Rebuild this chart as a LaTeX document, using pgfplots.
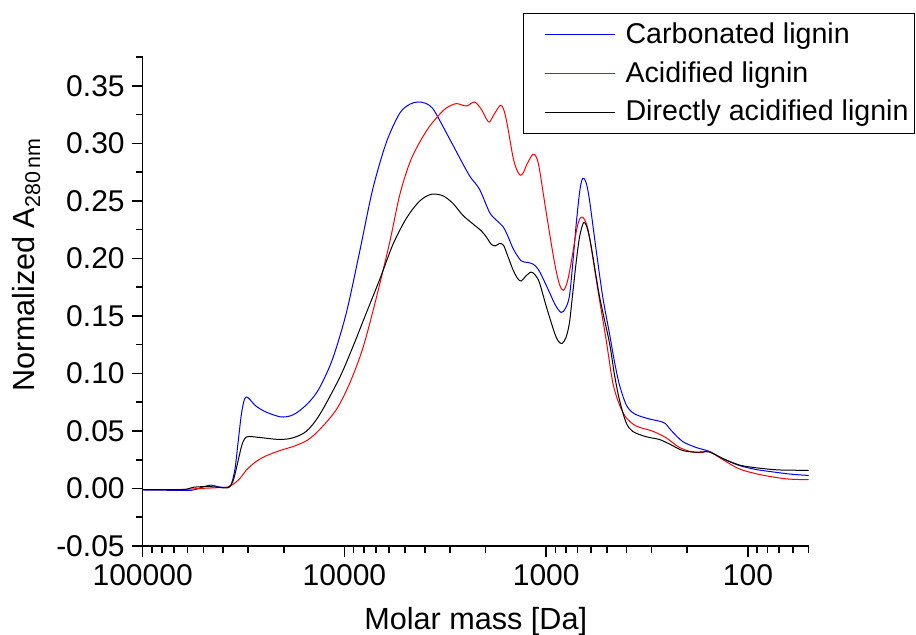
\documentclass[border=0pt]{standalone}
\usepackage{fontspec}
\setmainfont{Liberation Sans}
\usepackage{pgfplots}
\pgfplotsset{compat=1.18}

% Carbonated lignin
\pgfplotstableread{
M y
100000 -0.0013
69183 -0.0016
57016 -0.0015
50292 0.0013
45920 0.0030
42391 0.0015
38254 0.0009
36559 0.0026
34914 0.0165
33749 0.0383
32434 0.0643
31333 0.0774
30458 0.0794
29444 0.0774
27479 0.0717
24527 0.0665
20670 0.0622
18239 0.0635
16645 0.0678
14854 0.0757
13255 0.0878
11427 0.1130
9775 0.1530
8401 0.2061
7244 0.2600
6196 0.3009
5323 0.3261
4750 0.3339
4337 0.3359
3959 0.3348
3655 0.3304
3374 0.3200
3116 0.3087
2844 0.2957
2597 0.2826
2371 0.2704
2139 0.2600
1909 0.2400
1762 0.2330
1640 0.2278
1555 0.2200
1452 0.2078
1330 0.1978
1238 0.1965
1156 0.1948
1080 0.1887
963 0.1704
899 0.1591
843 0.1530
803 0.1565
767 0.1672
737 0.1974
708 0.2322
680 0.2600
659 0.2696
635 0.2661
611 0.2513
566 0.2078
525 0.1670
486 0.1348
459 0.1104
434 0.0904
402 0.0730
374 0.0661
345 0.0630
308 0.0604
275 0.0585
257 0.0565
240 0.0504
211 0.0409
181 0.0357
155.5 0.0322
134 0.0261
110.4 0.0200
91.3 0.0165
81.4 0.0152
62.5 0.0126
50 0.0113
}\carbonated

% Acidified lignin
\pgfplotstableread{
M y
100000 -0.0009
65353 -0.0009
52036 0.0000
43862 0.0006
38254 0.0011
35727 0.0035
32975 0.0087
30458 0.0165
27800 0.0226
25380 0.0270
22900 0.0304
20438 0.0335
17620 0.0370
15196 0.0422
13255 0.0513
10955 0.0687
9414 0.0915
8088 0.1225
6944 0.1660
5967 0.2140
5323 0.2550
4750 0.2830
4239 0.3009
3783 0.3148
3374 0.3252
3116 0.3309
2789 0.3345
2489 0.3324
2265 0.3359
2098 0.3296
1975 0.3209
1909 0.3185
1823 0.3244
1689 0.3330
1627 0.3296
1564 0.3174
1463 0.2887
1403 0.2774
1345 0.2722
1295 0.2748
1247 0.2817
1165 0.2904
1117 0.2878
1080 0.2774
1000 0.2400
910 0.1965
859.5 0.1774
821 0.1722
785 0.1800
752 0.1965
706 0.2252
684 0.2339
663 0.2359
639 0.2322
611 0.2191
555 0.1730
505 0.1296
468 0.0922
434 0.0730
402 0.0617
358.5 0.0543
296.8 0.0498
254.7 0.0441
218.9 0.0357
188.1 0.0316
168.4 0.0313
155.5 0.0322
133.6 0.0252
110.4 0.0170
87.9 0.0122
64.9 0.0084
50 0.0076
}\acidified

% Directly acidified lignin
\pgfplotstableread{
M y
100000 -0.0009
63170 -0.0009
56364 0.0010
48061 0.0017
41434 0.0010
37825 0.0006
35727 0.0061
34140 0.0194
32352 0.0368
31157 0.0435
29768 0.0452
26261 0.0443
20908 0.0426
17970 0.0441
15422 0.0498
13255 0.0643
10552 0.0965
9066 0.1235
7782 0.1528
6687 0.1817
5746 0.2122
4933 0.2348
4239 0.2498
3710 0.2557
3251 0.2544
2900 0.2478
2588 0.2374
2309 0.2300
2098 0.2239
1975 0.2183
1872 0.2122
1782 0.2109
1703 0.2130
1627 0.2113
1555 0.2026
1463 0.1904
1387 0.1826
1330 0.1803
1266 0.1844
1187 0.1881
1130 0.1852
1080 0.1789
1000 0.1585
910 0.1354
869 0.1278
833.5 0.1261
798 0.1313
767 0.1441
737 0.1713
710.6 0.1963
684 0.2183
653.5 0.2310
628 0.2270
598.8 0.2107
544.6 0.1672
486 0.1267
459 0.0991
434 0.0774
402 0.0574
372.6 0.0496
319.9 0.0450
275 0.0426
245.3 0.0387
210.8 0.0330
181 0.0316
155.5 0.0317
133.6 0.0261
110.4 0.0204
91.3 0.0180
70.0 0.0161
50 0.0158
}\direct

\begin{document}
\begin{tikzpicture}
\begin{axis}[
  scale only axis,
  width=333pt, height=244.5pt,
  xmode=log, x dir=reverse,
  xmin=50, xmax=100000,
  ymin=-0.05, ymax=0.375,
  axis x line*=bottom, axis y line*=left,
  axis line style={line width=0.8pt},
  tick align=outside,
  major tick length=5.5pt, minor tick length=3.3pt,
  every tick/.style={black, line width=0.8pt},
  xtick={100,1000,10000,100000},
  xticklabels={100,1000,10000,100000},
  minor xtick={50,60,70,80,90,200,300,400,500,600,700,800,900,
    2000,3000,4000,5000,6000,7000,8000,9000,
    20000,30000,40000,50000,60000,70000,80000,90000},
  ytick={-0.05,0,0.05,0.10,0.15,0.20,0.25,0.30,0.35},
  yticklabels={-0.05,0.00,0.05,0.10,0.15,0.20,0.25,0.30,0.35},
  minor ytick={-0.025,0.025,0.075,0.125,0.175,0.225,0.275,0.325,0.375},
  tick label style={font=\fontsize{15}{18}\selectfont},
  xlabel={Molar mass [Da]},
  ylabel={Normalized A\textsubscript{280\,nm}},
  every axis x label/.style={at={(axis description cs:0.5,-0.1708)}, anchor=base,
    font=\fontsize{15.3}{18}\selectfont},
  every axis y label/.style={at={(axis description cs:-0.1617,0.576)}, anchor=base,
    rotate=90, font=\fontsize{15.3}{18}\selectfont},
  legend cell align=left,
  legend style={at={(0.571,1.090)}, anchor=north west, draw=black,
    line width=0.6pt, fill=white, font=\fontsize{14.3}{16}\selectfont,
    inner xsep=1pt, inner ysep=2.6pt, row sep=3.5pt},
  legend image code/.code={\path (-9.5pt,0pt) (38pt,0pt); \draw[#1] (0pt,0pt) -- (35pt,0pt);},
]
\addplot[blue, line width=0.5pt, smooth] table[x=M, y=y] {\carbonated};
\addlegendentry{Carbonated lignin}
\addplot[red, line width=0.5pt, smooth] table[x=M, y=y] {\acidified};
\addlegendentry{Acidified lignin}
\addplot[black, line width=0.5pt, smooth] table[x=M, y=y] {\direct};
\addlegendentry{Directly acidified lignin}
\coordinate (bl) at (rel axis cs:0,0);
\end{axis}
\pgfresetboundingbox
\path[use as bounding box] ([xshift=-71.35pt,yshift=-44pt]bl) rectangle ([xshift=386.65pt,yshift=273pt]bl);
\end{tikzpicture}
\end{document}
